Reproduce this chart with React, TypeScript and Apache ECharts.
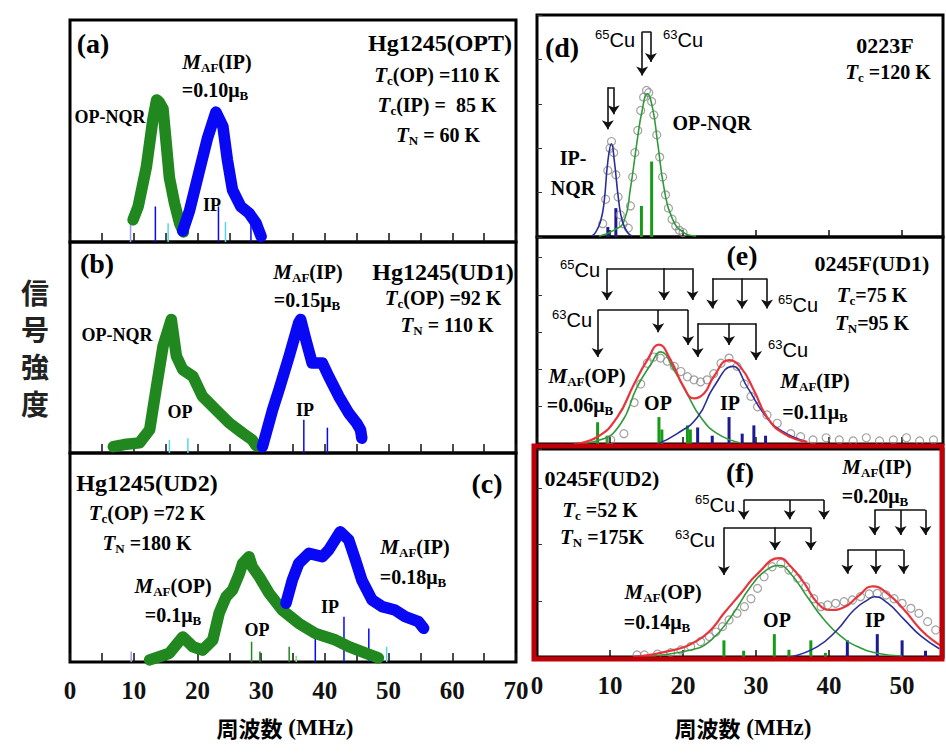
import React, { useEffect, useRef } from 'react';
import * as echarts from 'echarts';

const SERIF = '"Liberation Serif", "Times New Roman", serif';
const SANS = '"Liberation Sans", Arial, sans-serif';
const CJK = '"Noto Sans CJK JP", sans-serif';

// ---------- axis / ticks ----------
const leftXMax = 70;
const rightXMax = 55.6;
const leftTickStep = 5;
const rightTickStep = 10;
const labelStep = 10;

// ---------- panel (a) Hg1245(OPT) ----------
const aOP = [[9.9,0.10],[10.7,0.16],[12.0,0.34],[13.0,0.55],[13.6,0.64],[14.0,0.63],[14.6,0.60],[15.1,0.445],[15.6,0.29],[16.4,0.175],[17.2,0.085],[17.8,0.045]];
const aIP = [[17.7,0.05],[18.75,0.14],[20.3,0.32],[21.6,0.47],[22.9,0.585],[24.0,0.52],[24.7,0.37],[25.5,0.235],[26.8,0.16],[28.1,0.13],[29.2,0.085],[30.0,0.025]];
const aSticksBlue = [[13.4,0.16],[23.3,0.16],[28.4,0.14]];
const aSticksCyan = [[15.4,0.085],[24.4,0.09]];
const aSticksLav = [[9.5,0.08]];

// ---------- panel (b) Hg1245(UD1) ----------
const bOP = [[6.8,0.03],[8.5,0.04],[10.9,0.048],[12.5,0.11],[13.5,0.30],[14.6,0.506],[15.9,0.633],[16.7,0.459],[17.7,0.395],[19.3,0.363],[20.8,0.268],[22.9,0.205],[25.0,0.142],[27.1,0.094],[28.6,0.062],[29.2,0.035]];
const bIP = [[30.2,0.03],[31.8,0.205],[32.8,0.30],[34.4,0.459],[35.9,0.618],[36.2,0.633],[37.0,0.538],[38.0,0.427],[39.6,0.427],[40.6,0.363],[42.2,0.268],[43.75,0.189],[45.0,0.141],[45.6,0.11],[45.8,0.07]];
const bSticksBlue = [[36.7,0.157],[40.4,0.12]];
const bSticksCyan = [[15.6,0.062],[18.5,0.07]];

// ---------- panel (c) Hg1245(UD2) ----------
const cOP = [[12.5,0.01],[14.0,0.025],[15.6,0.042],[17.7,0.12],[19.3,0.073],[20.8,0.057],[22.4,0.105],[23.4,0.233],[24.5,0.312],[25.5,0.344],[26.6,0.424],[27.1,0.472],[28.1,0.504],[28.6,0.456],[29.7,0.408],[31.25,0.329],[33.3,0.249],[35.9,0.185],[38.5,0.137],[41.7,0.105],[43.75,0.073],[46.4,0.042],[48.4,0.02]];
const cIP = [[33.9,0.281],[34.9,0.392],[35.9,0.472],[37.5,0.52],[39.6,0.504],[40.6,0.536],[42.4,0.623],[43.75,0.584],[44.8,0.488],[45.8,0.392],[47.4,0.297],[49.0,0.265],[51.0,0.249],[52.6,0.217],[54.7,0.193],[55.5,0.161]];
const cSticksGreen = [[28.5,0.097],[29.8,0.05],[34.4,0.073]];
const cSticksLightGreen = [[35.5,0.03]];
const cSticksBlue = [[38.5,0.16],[43.0,0.217],[46.9,0.16]];
const cSticksCyan = [[49.7,0.073]];
const cSticksLav = [[9.6,0.05]];

// ---------- panel (d) 0223F ----------
const dIPfit = [[7.5,0.005],[8.0,0.02],[8.7,0.07],[9.2,0.16],[9.7,0.34],[10.2,0.42],[10.6,0.34],[11.2,0.16],[11.7,0.07],[12.4,0.02],[13.0,0.005]];
const dOPfit = [[8.5,0.003],[10.5,0.03],[11.9,0.07],[12.8,0.22],[13.7,0.43],[14.4,0.57],[15.1,0.645],[15.8,0.585],[16.5,0.43],[17.4,0.22],[18.5,0.085],[20.1,0.02],[21.8,0.005]];
const dData = [[9.0,0.06],[9.4,0.17],[9.7,0.30],[10.0,0.40],[10.2,0.43],[10.5,0.38],[10.8,0.28],[11.1,0.18],[11.4,0.10],[11.8,0.06],[12.5,0.04],[12.8,0.14],[13.1,0.27],[13.4,0.38],[13.8,0.48],[14.2,0.57],[14.6,0.63],[15.0,0.66],[15.3,0.65],[15.7,0.61],[16.0,0.55],[16.4,0.46],[16.8,0.36],[17.2,0.27],[17.6,0.19],[18.0,0.13],[18.5,0.08],[19.0,0.05],[19.5,0.03],[20.0,0.02]];
const dSticksGreen = [[14.3,0.14],[15.7,0.34]];
const dSticksBlue = [[9.7,0.045],[10.8,0.13]];
const dBrackets = [
  { top: 0.924, legs: [[14.4,0.727],[15.6,0.788]] },
  { top: 0.674, legs: [[9.7,0.485],[10.5,0.553]] },
];

// ---------- panel (e) 0245F(UD1) ----------
const eTotal = [[5.1,0],[8.3,0.035],[11.0,0.13],[13.3,0.29],[15.1,0.405],[16.7,0.48],[18.3,0.405],[20.1,0.275],[21.5,0.22],[22.9,0.245],[24.2,0.325],[26.3,0.405],[27.9,0.37],[29.7,0.26],[31.5,0.13],[33.8,0.05],[37.0,0.01]];
const eOP = [[5.0,0],[8.7,0.02],[11.5,0.10],[13.7,0.275],[15.6,0.385],[16.9,0.445],[18.8,0.355],[20.6,0.24],[22.4,0.13],[24.7,0.05],[27.9,0.005]];
const eIP = [[16.5,0],[19.2,0.05],[22.0,0.13],[24.2,0.275],[26.8,0.375],[28.8,0.275],[31.1,0.145],[33.4,0.065],[37.0,0.01]];
const eData = [[10.1,0.02],[11.9,0.05],[13.3,0.20],[14.2,0.29],[15.1,0.39],[16.0,0.42],[16.9,0.415],[17.85,0.40],[18.8,0.375],[19.7,0.35],[20.6,0.325],[21.5,0.31],[22.4,0.30],[23.3,0.31],[24.2,0.34],[25.2,0.39],[26.3,0.415],[27.4,0.375],[28.4,0.29],[29.3,0.23],[30.2,0.18],[31.5,0.14],[32.9,0.10],[34.75,0.05],[36.1,0.035],[37.8,0.02],[39.6,0.03],[41.4,0.02],[43.3,0.015],[45.1,0.03],[46.9,0.015],[48.8,0.02],[50.6,0.03],[52.4,0.015],[54.3,0.02]];
const eSticksGreen = [[8.3,0.105],[9.6,0.04],[16.7,0.13],[17.1,0.07],[20.6,0.09],[21.0,0.07]];
const eSticksBlue = [[22.0,0.08],[24.0,0.04],[26.3,0.13],[28.1,0.05],[29.7,0.09],[31.3,0.04]];
const eBrackets = [
  { top: 0.849, legs: [[9.6,0.696],[17.4,0.696],[21.3,0.696]] },
  { top: 0.647, legs: [[8.3,0.42],[16.6,0.54],[20.7,0.478]] },
  { top: 0.80, legs: [[24.0,0.655],[28.1,0.655],[31.5,0.655]] },
  { top: 0.583, legs: [[22.0,0.42],[26.3,0.478],[30.0,0.406]] },
];

// ---------- panel (f) 0245F(UD2) ----------
const fTotal = [[13.3,0],[18.8,0.034],[22.0,0.08],[23.8,0.13],[25.6,0.21],[27.9,0.305],[30.2,0.40],[33.2,0.475],[34.75,0.435],[36.6,0.355],[38.4,0.26],[40.2,0.226],[42.1,0.24],[43.9,0.29],[46.0,0.34],[48.0,0.305],[50.3,0.226],[52.6,0.13],[54.8,0.065],[55.6,0.05]];
const fOP = [[13.8,0],[21.1,0.034],[23.8,0.08],[26.5,0.19],[29.3,0.34],[31.5,0.42],[33.2,0.44],[34.75,0.40],[37.0,0.29],[39.3,0.18],[41.6,0.10],[43.9,0.05],[46.6,0.018],[50.0,0.005]];
const fIP = [[34.75,0],[38.4,0.05],[41.1,0.13],[43.4,0.226],[45.3,0.275],[46.2,0.29],[48.0,0.26],[50.3,0.18],[52.6,0.10],[55.1,0.04]];
const fData = [[13.7,0.01],[14.7,0.01],[16.5,0.014],[18.3,0.021],[19.7,0.034],[21.05,0.05],[22.4,0.074],[23.6,0.098],[24.5,0.12],[25.4,0.146],[26.3,0.178],[27.4,0.21],[28.4,0.242],[29.3,0.28],[30.2,0.33],[31.1,0.386],[32.2,0.434],[33.4,0.45],[34.5,0.418],[35.7,0.378],[36.8,0.338],[37.9,0.28],[38.9,0.242],[39.8,0.25],[40.9,0.258],[42.05,0.266],[43.2,0.274],[44.3,0.29],[45.5,0.303],[46.6,0.306],[47.8,0.298],[48.9,0.28],[50.0,0.258],[51.2,0.234],[52.3,0.21],[53.5,0.17],[54.6,0.13]];
const fSticksGreen = [[25.6,0.08],[28.3,0.03],[32.5,0.11],[34.5,0.035],[37.5,0.08],[39.5,0.02]];
const fSticksBlue = [[42.5,0.08],[46.6,0.11],[50.0,0.08],[53.2,0.03]];
const fBrackets = [
  { top: 0.755, legs: [[28.3,0.662],[34.6,0.662],[39.3,0.662]] },
  { top: 0.623, legs: [[25.6,0.394],[32.6,0.514],[37.5,0.514]] },
  { top: 0.707, legs: [[46.2,0.587],[49.8,0.587],[53.2,0.587]] },
  { top: 0.514, legs: [[42.5,0.40],[46.4,0.40],[50.2,0.40]] },
];

// ---------- colours ----------
const C_GREEN = '#21871f';
const C_BLUE = '#0808f4';
const C_CYAN = '#55d6ea';
const C_LAV = '#9c9cf2';
const C_LGREEN = '#86d886';
const F_GREEN = '#2f9b3a';
const F_BLUE = '#2a2f98';
const F_RED = '#e8343c';
const S_GREEN = '#179a17';
const S_BLUE = '#1a1a92';

const RICH: any = {
  n: { fontFamily: SERIF, fontWeight: 'bold', fontSize: 20, color: '#111' },
  m: { fontFamily: SERIF, fontWeight: 'bold', fontSize: 18, color: '#111' },
  i: { fontFamily: SERIF, fontWeight: 'bold', fontStyle: 'italic', fontSize: 21, color: '#111' },
  s: { fontFamily: SERIF, fontWeight: 'bold', fontSize: 13, color: '#111', padding: [11, 0, 0, 0] },
  big: { fontFamily: SERIF, fontWeight: 'bold', fontSize: 24, color: '#111' },
  mid: { fontFamily: SERIF, fontWeight: 'bold', fontSize: 22, color: '#111' },
  lab: { fontFamily: SERIF, fontWeight: 'bold', fontSize: 28, color: '#111' },
  cu: { fontFamily: SANS, fontSize: 20, color: '#222' },
  sup: { fontFamily: SANS, fontSize: 13, color: '#222', padding: [0, 0, 11, 0] },
  cjk: { fontFamily: CJK, fontWeight: 'bold', fontSize: 22, color: '#222' },
  lat: { fontFamily: SERIF, fontWeight: 'bold', fontSize: 23, color: '#222' },
};

const txt = (x: number, y: number, text: string) => ({
  type: 'text', x, y, z: 100,
  style: { text, rich: RICH, align: 'center', verticalAlign: 'middle' },
});

const MAF = (p: string) => `{i|M}{s|AF}{n|(${p})}`;
const MU = (v: string) => `{n|=${v}μ}{s|B}`;
const CU = (iso: string) => `{sup|${iso}}{cu|Cu}`;

export default function App() {
  const ref = useRef<HTMLDivElement>(null);
  useEffect(() => {
    document.body.style.margin = '0';
    const chart = echarts.init(ref.current!, null, { renderer: 'svg' });

    const grids = [
      { left: 70, top: 20, width: 446, height: 222 },
      { left: 70, top: 242, width: 446, height: 211 },
      { left: 70, top: 453, width: 446, height: 209 },
      { left: 537, top: 15, width: 406, height: 222 },
      { left: 537, top: 237, width: 406, height: 207 },
      { left: 537, top: 449, width: 406, height: 208 },
    ].map((g) => ({ ...g, show: true, borderColor: '#000', borderWidth: 3, backgroundColor: 'transparent' }));

    const yIntervals = [1, 1, 1, 0.2, 0.18, 0.27];
    const xAxis = grids.map((_, i) => {
      const left = i < 3;
      return {
        type: 'value', gridIndex: i, min: 0, max: left ? leftXMax : rightXMax,
        interval: left ? leftTickStep : rightTickStep,
        axisLine: { show: false }, splitLine: { show: false },
        axisTick: { show: true, inside: true, length: left ? 9 : 7, lineStyle: { color: '#111', width: 1.5 } },
        axisLabel: {
          show: i === 2 || i === 5, margin: 16,
          formatter: (v: number) => (Math.abs(v % labelStep) < 1e-6 ? String(v) : ''),
          fontFamily: SERIF, fontWeight: 'bold', fontSize: 25, color: '#111',
        },
      };
    });
    const yAxis = grids.map((_, i) => ({
      type: 'value', gridIndex: i, min: 0, max: 1, interval: yIntervals[i],
      axisLine: { show: false }, splitLine: { show: false }, axisLabel: { show: false },
      axisTick: { show: i >= 3, inside: true, length: 5, lineStyle: { color: '#333', width: 1 } },
    }));

    const thick = (data: number[][], color: string, i: number) => ({
      type: 'line', xAxisIndex: i, yAxisIndex: i, data, symbol: 'none', z: 3,
      lineStyle: { color, width: 11.5, cap: 'round', join: 'round' },
    });
    const fit = (data: number[][], color: string, i: number, w = 1.6) => ({
      type: 'line', xAxisIndex: i, yAxisIndex: i, data, symbol: 'none', smooth: 0.5, z: 4,
      lineStyle: { color, width: w },
    });
    const circles = (data: number[][], i: number) => ({
      type: 'scatter', xAxisIndex: i, yAxisIndex: i, data, symbol: 'circle', symbolSize: 8, z: 2,
      itemStyle: { color: 'rgba(255,255,255,0)', borderColor: '#8a8a8a', borderWidth: 1.2 },
    });
    const sticks = (groups: [number[][], string][], i: number, w: number) => ({
      type: 'bar', xAxisIndex: i, yAxisIndex: i, barWidth: w, z: 2,
      data: groups.flatMap(([arr, color]) => arr.map((v) => ({ value: v, itemStyle: { color } }))),
    });
    const brackets = (list: { top: number; legs: number[][] }[], i: number) => [
      {
        type: 'lines', coordinateSystem: 'cartesian2d', xAxisIndex: i, yAxisIndex: i, z: 6,
        symbol: 'none', lineStyle: { color: '#111', width: 1.6, opacity: 1, curveness: 0 },
        data: list.map((b) => ({ coords: [[b.legs[0][0], b.top], [b.legs[b.legs.length - 1][0], b.top]] })),
      },
      {
        type: 'lines', coordinateSystem: 'cartesian2d', xAxisIndex: i, yAxisIndex: i, z: 6,
        symbol: ['none', 'arrow'], symbolSize: 9,
        lineStyle: { color: '#111', width: 1.6, opacity: 1, curveness: 0 },
        data: list.flatMap((b) => b.legs.map(([x, tip]) => ({ coords: [[x, b.top], [x, tip]] }))),
      },
    ];

    const series: any[] = [
      sticks([[aSticksBlue, C_BLUE], [aSticksCyan, C_CYAN], [aSticksLav, C_LAV]], 0, 1.5),
      thick(aOP, C_GREEN, 0), thick(aIP, C_BLUE, 0),
      sticks([[bSticksBlue, C_BLUE], [bSticksCyan, C_CYAN]], 1, 1.5),
      thick(bOP, C_GREEN, 1), thick(bIP, C_BLUE, 1),
      sticks([[cSticksGreen, C_GREEN], [cSticksLightGreen, C_LGREEN], [cSticksBlue, C_BLUE], [cSticksCyan, C_CYAN], [cSticksLav, C_LAV]], 2, 1.5),
      thick(cOP, C_GREEN, 2), thick(cIP, C_BLUE, 2),
      circles(dData, 3),
      sticks([[dSticksGreen, S_GREEN], [dSticksBlue, S_BLUE]], 3, 3),
      fit(dOPfit, F_GREEN, 3), fit(dIPfit, F_BLUE, 3),
      ...brackets(dBrackets, 3),
      circles(eData, 4),
      sticks([[eSticksGreen, S_GREEN], [eSticksBlue, S_BLUE]], 4, 3),
      fit(eOP, F_GREEN, 4), fit(eIP, F_BLUE, 4), fit(eTotal, F_RED, 4, 2.2),
      ...brackets(eBrackets, 4),
      circles(fData, 5),
      sticks([[fSticksGreen, S_GREEN], [fSticksBlue, S_BLUE]], 5, 3),
      fit(fOP, F_GREEN, 5), fit(fIP, F_BLUE, 5), fit(fTotal, F_RED, 5, 2.2),
      ...brackets(fBrackets, 5),
    ];

    const graphic: any[] = [
      // highlight frame of (f)
      { type: 'rect', z: 90, shape: { x: 534, y: 446, width: 408, height: 213 }, style: { fill: 'none', stroke: '#c00008', lineWidth: 5 } },
      // y label
      { type: 'text', x: 35, y: 347, z: 100, style: { text: '信\n号\n強\n度', fontFamily: CJK, fontWeight: 'bold', fontSize: 28, lineHeight: 37, fill: '#222', align: 'center', verticalAlign: 'middle' } },
      txt(285, 727, '{cjk|周波数}{lat| (MHz)}'),
      txt(743, 727, '{cjk|周波数}{lat| (MHz)}'),
      // (a)
      txt(93, 43, '{lab|(a)}'),
      txt(217, 62, MAF('IP')), txt(215, 90, MU('0.10')),
      txt(110, 117, '{m|OP-NQR}'), txt(212, 205, '{m|IP}'),
      txt(440, 43, '{big|Hg1245(OPT)}'),
      txt(437, 75, '{i|T}{s|c}{n|(OP) =110 K}'),
      txt(437, 105, '{i|T}{s|c}{n|(IP) =  85 K}'),
      txt(438, 135, '{i|T}{s|N}{n| = 60 K}'),
      // (b)
      txt(97, 263, '{lab|(b)}'),
      txt(308, 272, MAF('IP')), txt(307, 300, MU('0.15')),
      txt(443, 272, '{big|Hg1245(UD1)}'),
      txt(443, 298, '{i|T}{s|c}{n|(OP) =92 K}'),
      txt(447, 325, '{i|T}{s|N}{n| = 110 K}'),
      txt(117, 335, '{m|OP-NQR}'), txt(180, 412, '{m|OP}'), txt(305, 410, '{m|IP}'),
      // (c)
      txt(147, 483, '{big|Hg1245(UD2)}'),
      txt(147, 513, '{i|T}{s|c}{n|(OP) =72 K}'),
      txt(147, 543, '{i|T}{s|N}{n| =180 K}'),
      txt(487, 483, '{lab|(c)}'),
      txt(415, 547, MAF('IP')), txt(413, 577, MU('0.18')),
      txt(173, 586, MAF('OP')), txt(173, 615, MU('0.1')),
      txt(257, 630, '{m|OP}'), txt(330, 607, '{m|IP}'),
      // (d)
      txt(562, 47, '{lab|(d)}'),
      txt(615, 40, CU('65')), txt(683, 40, CU('63')),
      txt(885, 45, '{mid|0223F}'),
      txt(888, 72, '{i|T}{s|c}{n| =120 K}'),
      txt(712, 123, '{n|OP-NQR}'),
      txt(573, 158, '{n|IP-}'), txt(573, 188, '{n|NQR}'),
      // (e)
      txt(742, 255, '{lab|(e)}'),
      txt(872, 263, '{mid|0245F(UD1)}'),
      txt(872, 295, '{i|T}{s|c}{n|=75 K}'),
      txt(872, 323, '{i|T}{s|N}{n|=95 K}'),
      txt(580, 270, CU('65')), txt(572, 320, CU('63')),
      txt(798, 305, CU('65')), txt(788, 350, CU('63')),
      txt(587, 376, MAF('OP')), txt(580, 405, MU('0.06')),
      txt(658, 403, '{n|OP}'), txt(730, 403, '{n|IP}'),
      txt(815, 381, MAF('IP')), txt(815, 412, MU('0.11')),
      // (f)
      txt(740, 472, '{lab|(f)}'),
      txt(602, 478, '{mid|0245F(UD2)}'),
      txt(600, 510, '{i|T}{s|c}{n| =52 K}'),
      txt(602, 537, '{i|T}{s|N}{n| =175K}'),
      txt(715, 505, CU('65')), txt(695, 540, CU('63')),
      txt(663, 592, MAF('OP')), txt(657, 622, MU('0.14')),
      txt(777, 620, '{n|OP}'), txt(875, 620, '{n|IP}'),
      txt(877, 467, MAF('IP')), txt(875, 496, MU('0.20')),
    ];

    chart.setOption({
      animation: false,
      backgroundColor: '#fff',
      grid: grids,
      xAxis,
      yAxis,
      series,
      graphic,
    } as any);
    return () => chart.dispose();
  }, []);
  return <div ref={ref} style={{ position: 'fixed', left: 0, top: 0, width: 946, height: 754 }} />;
}
